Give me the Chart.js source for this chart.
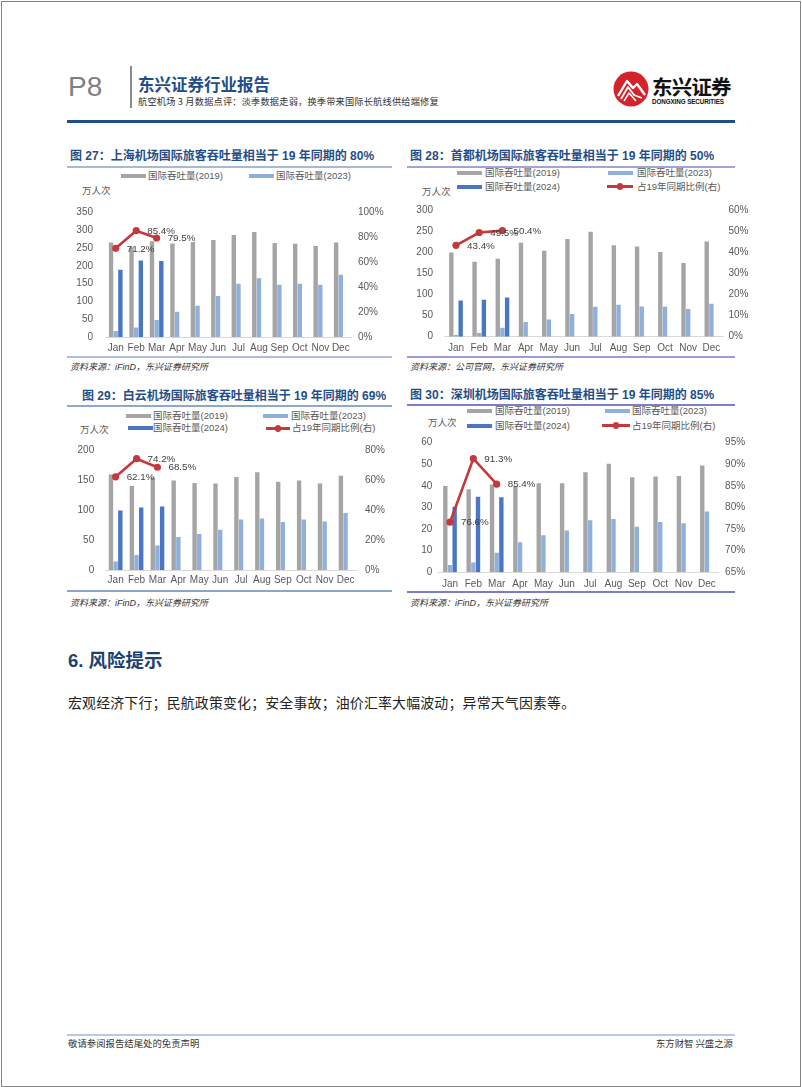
<!DOCTYPE html>
<html><head><meta charset="utf-8">
<script src="https://cdn.jsdelivr.net/npm/chart.js@4.4.1/dist/chart.umd.min.js"></script>
<style>
body{margin:0;background:#fff;width:802px;height:1087px;position:relative;overflow:hidden;font-family:'Liberation Sans','Noto Sans CJK SC',sans-serif;}
.a{position:absolute;white-space:nowrap;line-height:1;}
canvas{position:absolute;}
</style></head><body>
<script>
// ---------------- DATA ----------------
const MONTHS = ['Jan','Feb','Mar','Apr','May','Jun','Jul','Aug','Sep','Oct','Nov','Dec'];
const SERIES_NAMES = ['国际吞吐量(2019)','国际吞吐量(2023)','国际吞吐量(2024)','占19年同期比例(右)'];

// 图27 上海机场
const sh2019 = [266, 252, 269, 263, 267, 273, 287, 295, 264, 262, 256, 266];
const sh2023 = [17, 27, 48, 71, 88, 115, 150, 165, 147, 150, 147, 175];
const sh2024 = [189, 215, 214, null, null, null, null, null, null, null, null, null];
const shRatio = [71.2, 85.4, 79.5, null, null, null, null, null, null, null, null, null];
const shLeftTicks = [0, 350, 50];
const shRightTicks = [0, 100, 20];

// 图28 首都机场
const bj2019 = [200, 178, 185, 223, 204, 232, 249, 217, 214, 201, 175, 226];
const bj2023 = [4, 9, 21, 35, 41, 54, 71, 76, 72, 71, 66, 78];
const bj2024 = [86, 88, 93, null, null, null, null, null, null, null, null, null];
const bjRatio = [43.4, 49.5, 50.4, null, null, null, null, null, null, null, null, null];
const bjLeftTicks = [0, 300, 50];
const bjRightTicks = [0, 60, 10];

// 图29 白云机场
const gz2019 = [159, 140, 154, 149, 145, 144, 155, 163, 147, 149, 144, 157];
const gz2023 = [14, 25, 41, 55, 60, 67, 84, 86, 80, 84, 81, 95];
const gz2024 = [99, 104, 106, null, null, null, null, null, null, null, null, null];
const gzRatio = [62.1, 74.2, 68.5, null, null, null, null, null, null, null, null, null];
const gzLeftTicks = [0, 200, 50];
const gzRightTicks = [0, 80, 20];

// 图30 深圳机场
const sz2019 = [40, 38.4, 40.6, 40, 41.2, 41.2, 46.3, 50.2, 44, 44.3, 44.6, 49.4];
const sz2023 = [3.4, 4.5, 9.1, 13.9, 17.1, 19.3, 24.1, 24.7, 21.1, 23.3, 22.7, 28.1];
const sz2024 = [30.4, 35, 34.7, null, null, null, null, null, null, null, null, null];
const szRatio = [76.6, 91.3, 85.4, null, null, null, null, null, null, null, null, null];
const szLeftTicks = [0, 60, 10];
const szRightTicks = [65, 95, 5];

// ---------------- STYLE ----------------
const FONT = "'Liberation Sans','Noto Sans CJK SC',sans-serif";
const C19 = '#A5A5A5', C23 = '#8FB0DD', C24 = '#4A76C4', CR = '#C4393C';
const TXT = '#595959';

function el(html, x, y, css, center) {
  const d = document.createElement('div');
  d.className = 'a';
  d.innerHTML = html;
  d.style.left = x + 'px';
  d.style.top = y + 'px';
  if (center !== false) d.style.transform = 'translateY(-50%)';
  d.style.cssText += css || '';
  document.body.appendChild(d);
  return d;
}
function box(x, y, w, h, color, extra) {
  const d = document.createElement('div');
  d.style.cssText = `position:absolute;left:${x}px;top:${y}px;width:${w}px;height:${h}px;background:${color};` + (extra || '');
  document.body.appendChild(d);
  return d;
}

// ---------------- PAGE ----------------
box(1, 1, 798, 1084, 'transparent', 'border:1px solid #858585;');
el('P8', 68, 87, `font-family:'Liberation Sans Narrow','Liberation Sans',sans-serif;font-size:28px;color:#808080;`);
box(130, 66, 1.5, 42, '#8a8a8a');
el('东兴证券行业报告', 138, 84, `font-size:16.5px;font-weight:bold;color:#1F4E89;font-family:'Noto Sans CJK SC',sans-serif;`);
el('航空机场 3 月数据点评：淡季数据走弱，换季带来国际长航线供给端修复', 138, 102, `font-size:9.2px;letter-spacing:0.2px;color:#333;font-family:'Noto Sans CJK SC',sans-serif;`);
// logo
(function(){
  const s = document.createElementNS('http://www.w3.org/2000/svg','svg');
  s.setAttribute('width','38'); s.setAttribute('height','38');
  s.style.cssText = 'position:absolute;left:612px;top:70px;';
  s.innerHTML = '<circle cx="19" cy="19" r="17.5" fill="#D4232B"/>' +
    '<path d="M6 26 L15 11 L21 18 L25 14 L33 25" fill="none" stroke="#fff" stroke-width="2.4" stroke-linejoin="round"/>' +
    '<path d="M9 29 L16 17 L22 25 L30 28" fill="none" stroke="#fff" stroke-width="1.8" stroke-linejoin="round"/>' +
    '<path d="M12 31 L17 23 L24 31" fill="none" stroke="#fff" stroke-width="1.5"/>';
  document.body.appendChild(s);
})();
el('东兴证券', 652, 86, `font-size:20.5px;font-weight:bold;color:#111;letter-spacing:-0.8px;font-family:'Noto Sans CJK SC',sans-serif;`);
el('DONGXING SECURITIES', 652, 101.5, `font-size:6.3px;font-weight:bold;color:#111;letter-spacing:-0.1px;`);
box(67, 120, 668, 3, '#1F4E89');

// section
el('6. 风险提示', 68, 661, `font-size:18.5px;font-weight:bold;color:#1F3F73;font-family:'Liberation Sans','Noto Sans CJK SC',sans-serif;`);
el('宏观经济下行；民航政策变化；安全事故；油价汇率大幅波动；异常天气因素等。', 68, 703, `font-size:13.9px;letter-spacing:0.2px;color:#222;font-family:'Noto Sans CJK SC',sans-serif;`);

// footer
box(67, 1034, 668, 2, '#B9CADF');
el('敬请参阅报告结尾处的免责声明', 68, 1044, `font-size:9.4px;color:#333;font-family:'Noto Sans CJK SC',sans-serif;`);
el('东方财智 兴盛之源', 733, 1044, `font-size:9.4px;color:#333;font-family:'Noto Sans CJK SC',sans-serif;transform:translate(-100%,-50%);`);

// ---------------- CHART HELPERS ----------------
const lineLabels = {
  id: 'lineLabels',
  afterDatasetsDraw(chart) {
    const ctx = chart.ctx;
    chart.data.datasets.forEach((ds, i) => {
      if (ds.type !== 'line') return;
      const meta = chart.getDatasetMeta(i);
      ctx.save();
      ctx.font = '9.8px ' + FONT;
      ctx.fillStyle = '#404040';
      ctx.textAlign = 'left';
      ctx.textBaseline = 'middle';
      meta.data.forEach((pt, j) => {
        const v = ds.data[j];
        if (v == null) return;
        ctx.fillText(v.toFixed(1) + '%', pt.x + 11, pt.y + 0.5);
      });
      ctx.restore();
    });
  }
};

function makeChart(P, v19, v23, v24, ratio, lt, rt) {
  const cv = document.createElement('canvas');
  const L = Math.floor(P.left - 45), T = Math.floor(P.top - 12);
  const W = Math.ceil(P.right + 45 - L), H = Math.ceil(P.bottom + 24 - T);
  cv.width = W; cv.height = H;
  cv.style.left = L + 'px'; cv.style.top = T + 'px';
  cv.style.width = W + 'px'; cv.style.height = H + 'px';
  document.body.appendChild(cv);
  const yW = P.left - L, y1W = L + W - P.right, padTop = P.top - T, xH = T + H - P.bottom;
  const catW = (P.right - P.left) / 12;
  const catPct = 14 / catW;
  const tickFont = { family: FONT, size: 10 };
  const barDs = (label, data, color) => ({
    type: 'bar', label, data, backgroundColor: color, borderWidth: 0,
    yAxisID: 'y', order: 2, categoryPercentage: catPct, barPercentage: 0.94
  });
  new Chart(cv, {
    data: {
      labels: MONTHS,
      datasets: [
        barDs(SERIES_NAMES[0], v19, C19),
        barDs(SERIES_NAMES[1], v23, C23),
        barDs(SERIES_NAMES[2], v24, C24),
        {
          type: 'line', label: SERIES_NAMES[3], data: ratio, yAxisID: 'y1', order: 0,
          borderColor: CR, backgroundColor: CR, borderWidth: 2.6,
          pointRadius: 3.6, pointBackgroundColor: CR, pointBorderWidth: 0,
          tension: 0, spanGaps: false
        }
      ]
    },
    options: {
      responsive: false, animation: false, devicePixelRatio: 1,
      layout: { padding: { top: padTop, left: 0, right: 0, bottom: 0 } },
      plugins: { legend: { display: false }, tooltip: { enabled: false } },
      scales: {
        x: {
          offset: true,
          grid: { display: false, drawTicks: false },
          border: { display: true, color: '#D9D9D9', width: 1 },
          ticks: { font: tickFont, color: TXT, padding: P.xPad, maxRotation: 0, autoSkip: false },
          afterFit: s => { s.height = xH; }
        },
        y: {
          position: 'left', min: lt[0], max: lt[1],
          grid: { display: false, drawTicks: false },
          border: { display: false },
          ticks: { stepSize: lt[2], font: tickFont, color: TXT, padding: P.yPad },
          afterFit: s => { s.width = yW; }
        },
        y1: {
          position: 'right', min: rt[0], max: rt[1],
          grid: { display: false, drawTicks: false },
          border: { display: false },
          ticks: { stepSize: rt[2], font: tickFont, color: TXT, padding: P.y1Pad, callback: v => v + '%' },
          afterFit: s => { s.width = y1W; }
        }
      }
    },
    plugins: [lineLabels]
  });
}

function legendBar(x, y, color, text, tx) {
  box(x, y - 2.2, 25, 4.4, color);
  el(text, tx, y, `font-size:9.5px;color:${TXT};`);
}
function legendLine(x1, x2, y, text, tx) {
  box(x1, y - 1.3, x2 - x1, 2.6, CR);
  const m = (x1 + x2) / 2;
  box(m - 3.3, y - 3.3, 6.6, 6.6, CR, 'border-radius:50%;');
  el(text, tx, y, `font-size:9.5px;color:${TXT};`);
}
function frame(title, tx, ty, x1, x2, lineY, lineC, botY, botC, unitX, unitY, src, srcX, srcY) {
  el(title, tx, ty, `font-size:12px;font-weight:bold;color:#1F4E89;`);
  box(x1, lineY - 1, x2 - x1, 2, lineC);
  box(x1, botY - 1, x2 - x1, 2, botC);
  el('万人次', unitX, unitY, `font-size:9.5px;color:${TXT};`);
  el(src, srcX, srcY, `font-size:9px;color:#333;font-style:italic;`);
}

// ---------------- 图27 ----------------
frame('图 27：上海机场国际旅客吞吐量相当于 19 年同期的 80%', 70, 156, 67, 392, 166.7, '#A7B9D3', 357.3, '#B3BDDB', 82, 190.7, '资料来源：iFinD，东兴证券研究所', 70, 366.7);
legendBar(121, 175.7, C19, SERIES_NAMES[0], 148);
legendBar(249, 175.7, C23, SERIES_NAMES[1], 276);
makeChart({ left: 105.5, right: 351, top: 206, bottom: 337, yPad: 12.5, y1Pad: 7, xPad: 5 }, sh2019, sh2023, sh2024, shRatio, shLeftTicks, shRightTicks);

// ---------------- 图28 ----------------
frame('图 28：首都机场国际旅客吞吐量相当于 19 年同期的 50%', 410, 156, 407, 735, 166.7, '#A3A3D6', 357.3, '#9C9CD0', 422, 191.7, '资料来源：公司官网，东兴证券研究所', 410, 366.7);
legendBar(457, 173.3, C19, SERIES_NAMES[0], 485);
legendBar(608, 173.3, C23, SERIES_NAMES[1], 637);
legendBar(457, 186.7, C24, SERIES_NAMES[2], 485);
legendLine(607, 633, 186.7, SERIES_NAMES[3], 637);
makeChart({ left: 444.4, right: 723, top: 205, bottom: 336.7, yPad: 11.4, y1Pad: 5.5, xPad: 6 }, bj2019, bj2023, bj2024, bjRatio, bjLeftTicks, bjRightTicks);

// ---------------- 图29 ----------------
frame('图 29：白云机场国际旅客吞吐量相当于 19 年同期的 69%', 82, 395.7, 67, 392, 405.7, '#8CA8CA', 591, '#8DA6C6', 80, 430, '资料来源：iFinD，东兴证券研究所', 70, 602.7);
legendBar(126, 416, C19, SERIES_NAMES[0], 153);
legendBar(263, 416, C23, SERIES_NAMES[1], 291);
legendBar(128, 428.3, C24, SERIES_NAMES[2], 153);
legendLine(266, 290, 428.3, SERIES_NAMES[3], 292);
makeChart({ left: 105.2, right: 356, top: 445.3, bottom: 570, yPad: 11, y1Pad: 9, xPad: 4.5 }, gz2019, gz2023, gz2024, gzRatio, gzLeftTicks, gzRightTicks);

// ---------------- 图30 ----------------
frame('图 30：深圳机场国际旅客吞吐量相当于 19 年同期的 85%', 410, 395, 407, 735, 405, '#7E7EC6', 591.7, '#7C7CC4', 428, 423.3, '资料来源：iFinD，东兴证券研究所', 410, 602.7);
legendBar(467, 411, C19, SERIES_NAMES[0], 495);
legendBar(605, 411, C23, SERIES_NAMES[1], 632);
legendBar(467, 425.7, C24, SERIES_NAMES[2], 495);
legendLine(602, 630, 425.7, SERIES_NAMES[3], 632);
makeChart({ left: 438.3, right: 718.6, top: 442.7, bottom: 572.3, yPad: 6, y1Pad: 6.5, xPad: 5.5 }, sz2019, sz2023, sz2024, szRatio, szLeftTicks, szRightTicks);
</script>
</body></html>
